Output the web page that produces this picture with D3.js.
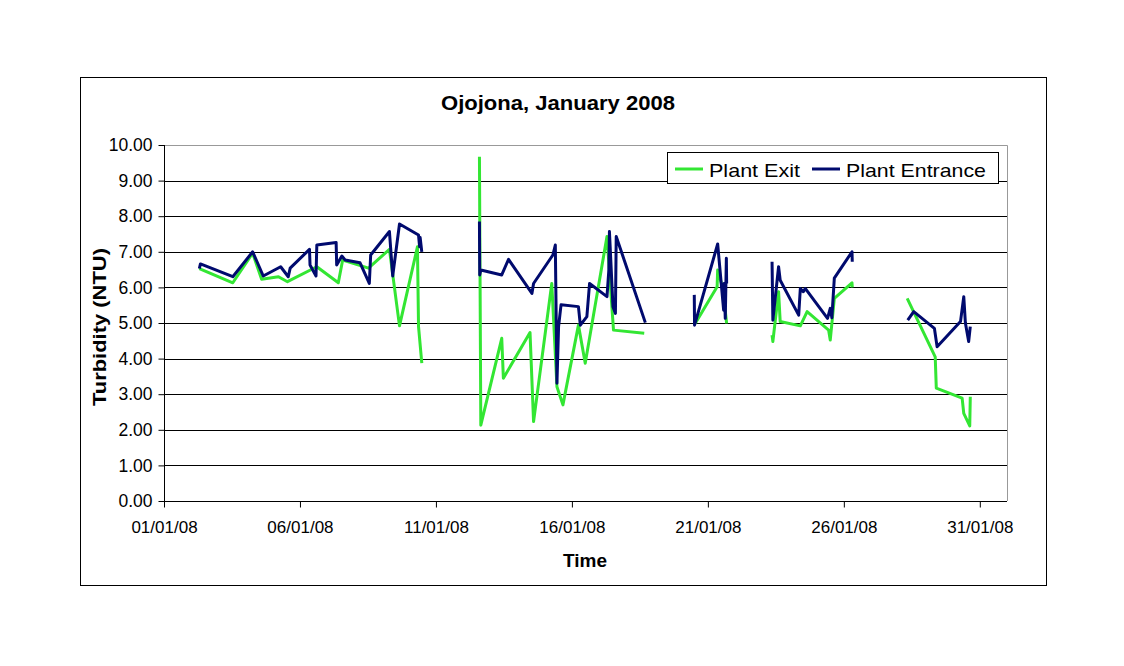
<!DOCTYPE html>
<html lang="en">
    <head>
        <meta charset="utf-8">
        <title>Ojojona, January 2008</title>
        <script type="text/javascript" src="https://cdnjs.cloudflare.com/ajax/libs/d3/7.8.5/d3.min.js"></script>
        <style type="text/css">
            body {
                margin: 0;
                background: white;
            }
            text {
                font-family: "Liberation Sans", Arial, sans-serif;
                fill: black;
            }
        </style>
    </head>
    <body>
        <script type="text/javascript">
            //data (day of January 2008, turbidity in NTU)
            //null breaks the line
            var exitDays = [2.30, 3.53, 4.26, 4.59, 5.21, 5.54, 6.62, 7.41, 7.57, 8.52, 9.29, 9.66, 10.32, 10.36, 10.48, null,
                            12.60, 12.65, 13.42, 13.48, 14.46, 14.59, 15.26, 15.45, 15.67, 16.24, 16.49, 17.29, 17.53, 18.66, null,
                            20.54, 21.34, 21.36, 21.55, 21.69, null,
                            23.36, 23.39, 23.60, 23.66, 24.40, 24.65, 25.44, 25.50, 25.65, 26.30, 26.31, null,
                            28.33, 29.36, 29.40, 30.35, 30.41, 30.63, 30.65];
            var exitValues = [6.53, 6.13, 6.96, 6.23, 6.30, 6.16, 6.58, 6.13, 6.77, 6.54, 7.07, 4.92, 7.14, 4.90, 3.87, null,
                              9.67, 2.13, 4.57, 3.45, 4.73, 2.23, 6.11, 3.21, 2.70, 4.94, 3.87, 7.43, 4.80, 4.71, null,
                              4.99, 6.02, 6.49, 5.97, 4.99, null,
                              4.66, 4.48, 5.88, 5.04, 4.92, 5.32, 4.80, 4.52, 5.69, 6.13, 6.00, null,
                              5.69, 4.05, 3.17, 2.89, 2.46, 2.11, 2.93];

            var entranceDays = [2.30, 2.34, 3.53, 4.26, 4.65, 5.29, 5.57, 5.64, 6.35, 6.37, 6.59, 6.62, 7.33, 7.35, 7.54, 7.66, 8.21, 8.55, 8.60, 9.29, 9.41, 9.66, 10.36, 10.40, 10.42, 10.48, null,
                                12.60, 12.61, 12.65, 13.42, 13.67, 14.53, 14.59, 15.30, 15.39, 15.42, 15.45, 15.51, 15.60, 16.24, 16.31, 16.55, 16.65, 17.29, 17.36, 17.38, 17.51, 17.60, 17.63, 18.70, null,
                                20.50, 20.51, 21.36, 21.58, 21.60, 21.64, 21.68, 21.69, null,
                                23.36, 23.39, 23.60, 23.66, 24.34, 24.40, 24.51, 24.58, 25.40, 25.50, 25.56, 25.65, 26.30, 26.31, null,
                                28.35, 28.57, 29.33, 29.43, 30.29, 30.41, 30.47, 30.59, 30.65];
            var entranceValues = [6.53, 6.66, 6.30, 7.00, 6.32, 6.58, 6.30, 6.54, 7.07, 6.63, 6.32, 7.19, 7.26, 6.63, 6.88, 6.77, 6.69, 6.11, 6.91, 7.57, 6.32, 7.78, 7.47, 7.14, 7.40, 7.00, null,
                                  7.85, 6.35, 6.49, 6.35, 6.79, 5.83, 6.11, 6.91, 7.19, 5.27, 3.31, 4.90, 5.51, 5.46, 4.94, 5.18, 6.11, 5.74, 6.50, 7.57, 5.46, 5.27, 7.43, 5.01, null,
                                  5.79, 4.94, 7.22, 5.36, 6.11, 5.13, 6.82, 6.11, null,
                                  6.72, 5.08, 6.58, 6.20, 5.22, 5.97, 5.88, 5.97, 5.13, 5.41, 5.15, 6.26, 7.00, 6.72, null,
                                  5.08, 5.32, 4.85, 4.33, 5.04, 5.74, 5.00, 4.48, 4.90];

            var yTicks = [0, 1, 2, 3, 4, 5, 6, 7, 8, 9, 10];
            var xTickDays = [1, 6, 11, 16, 21, 26, 31];
            var seriesNames = ["Plant Exit", "Plant Entrance"];
            var seriesColors = ["#33e633", "#000a6e"];

            var W = 1124, H = 666;
            var plotLeft = 164, plotRight = 1007, plotTop = 145, plotBottom = 501;

            //day of month -> Date
            var start = new Date(2008, 0, 1);
            function toDate(d) {
                return new Date(start.getTime() + (d - 1) * 864e5);
            }

            function makeSeries(days, values) {
                return days.map(function(d, i) {
                    return {date: d == null ? null : toDate(d), value: values[i]};
                });
            }
            var series = [makeSeries(exitDays, exitValues), makeSeries(entranceDays, entranceValues)];

            var xScale = d3.scaleTime()
                           .domain([start, new Date(2008, 1, 1)])
                           .range([plotLeft, plotRight]);
            var yScale = d3.scaleLinear()
                           .domain([0, 10])
                           .range([plotBottom, plotTop]);

            var svg = d3.select("body").append("svg")
                        .attr("width", W)
                        .attr("height", H);

            svg.append("rect")
               .attr("width", W).attr("height", H)
               .attr("fill", "white");

            //outer chart border
            svg.append("rect")
               .attr("x", 80.5).attr("y", 77.5)
               .attr("width", 966).attr("height", 508)
               .attr("fill", "none")
               .attr("stroke", "black");

            //gridlines
            svg.append("g")
               .selectAll("line")
               .data(yTicks.slice(1, 10))
               .enter()
               .append("line")
               .attr("x1", plotLeft).attr("x2", plotRight)
               .attr("y1", function(d) { return Math.round(yScale(d)) + 0.5; })
               .attr("y2", function(d) { return Math.round(yScale(d)) + 0.5; })
               .attr("stroke", "black");

            //plot area top and right border (gray)
            svg.append("path")
               .attr("d", "M" + plotLeft + "," + (plotTop + 0.5) + "H" + (plotRight + 0.5) + "V" + plotBottom)
               .attr("fill", "none")
               .attr("stroke", "#999");

            //Y axis
            var yAxis = d3.axisLeft(yScale)
                          .tickValues(yTicks)
                          .tickSize(6)
                          .tickPadding(6)
                          .tickFormat(d3.format(".2f"));
            var gy = svg.append("g")
                        .attr("transform", "translate(" + (plotLeft + 0.5) + ",0)")
                        .call(yAxis);
            gy.select(".domain").attr("d", "M0," + plotTop + "V" + plotBottom).attr("stroke", "black");
            gy.selectAll("text")
              .style("font-size", "17.5px")
              .style("font-family", '"Liberation Sans", Arial, sans-serif');

            //X axis
            var xAxis = d3.axisBottom(xScale)
                          .tickValues(xTickDays.map(toDate))
                          .tickSize(6)
                          .tickPadding(13)
                          .tickFormat(d3.timeFormat("%d/%m/%y"));
            var gx = svg.append("g")
                        .attr("transform", "translate(0," + (plotBottom + 0.5) + ")")
                        .call(xAxis);
            gx.select(".domain").attr("d", "M" + plotLeft + ",0H" + plotRight).attr("stroke", "black");
            gx.selectAll("text")
              .style("font-size", "17px")
              .style("font-family", '"Liberation Sans", Arial, sans-serif');

            //lines
            var line = d3.line()
                         .defined(function(d) { return d.date != null && d.value != null; })
                         .x(function(d) { return xScale(d.date); })
                         .y(function(d) { return yScale(d.value); });

            svg.selectAll(".series")
               .data(series)
               .enter()
               .append("path")
               .attr("class", "series")
               .attr("d", line)
               .attr("fill", "none")
               .attr("stroke", function(d, i) { return seriesColors[i]; })
               .attr("stroke-width", 3)
               .attr("stroke-linejoin", "round");

            //title
            svg.append("text")
               .attr("x", 558).attr("y", 110)
               .attr("text-anchor", "middle")
               .attr("textLength", 234)
               .attr("lengthAdjust", "spacingAndGlyphs")
               .style("font-size", "21px")
               .style("font-weight", "bold")
               .text("Ojojona, January 2008");

            //axis labels
            svg.append("text")
               .attr("text-anchor", "middle")
               .attr("transform", "translate(106,327) rotate(-90)")
               .attr("textLength", 158)
               .attr("lengthAdjust", "spacingAndGlyphs")
               .style("font-size", "18px")
               .style("font-weight", "bold")
               .text("Turbidity (NTU)");

            svg.append("text")
               .attr("x", 585).attr("y", 567)
               .attr("text-anchor", "middle")
               .attr("textLength", 44)
               .attr("lengthAdjust", "spacingAndGlyphs")
               .style("font-size", "18.5px")
               .style("font-weight", "bold")
               .text("Time");

            //legend
            var legend = svg.append("g");
            legend.append("rect")
                  .attr("x", 667.5).attr("y", 152.5)
                  .attr("width", 331).attr("height", 31)
                  .attr("fill", "white")
                  .attr("stroke", "black");
            var legendX = [675, 812];
            var legendTextLen = [91, 140];
            var item = legend.selectAll(".item")
                             .data(seriesNames)
                             .enter()
                             .append("g")
                             .attr("class", "item")
                             .attr("transform", function(d, i) { return "translate(" + legendX[i] + ",169)"; });
            item.append("line")
                .attr("x1", 0).attr("x2", 28)
                .attr("stroke", function(d, i) { return seriesColors[i]; })
                .attr("stroke-width", 3);
            item.append("text")
                .attr("x", 34).attr("y", 7.5)
                .attr("textLength", function(d, i) { return legendTextLen[i]; })
                .attr("lengthAdjust", "spacingAndGlyphs")
                .style("font-size", "19px")
                .text(function(d) { return d; });
        </script>
    </body>
</html>
